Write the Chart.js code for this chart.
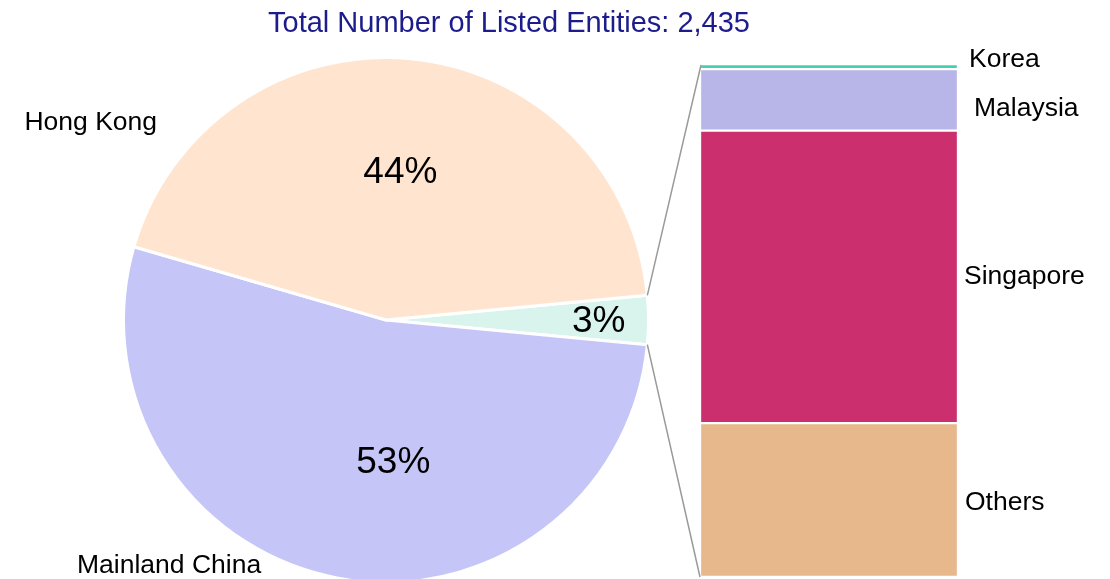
<!DOCTYPE html>
<html>
<head>
<meta charset="utf-8">
<script src="https://cdn.jsdelivr.net/npm/chart.js@4.4.1/dist/chart.umd.min.js"></script>
<style>
  html, body { margin: 0; padding: 0; background: #fff; }
  #wrap { position: relative; width: 1110px; height: 579px; overflow: hidden; }
  #wrap canvas { position: absolute; left: 0; top: 0; }
</style>
</head>
<body>
<div id="wrap">
  <canvas id="pie" width="1110" height="600"></canvas>
  <canvas id="bar" width="1110" height="600"></canvas>
</div>
<script>
// ── Données ───────────────────────────────────────────────────────────────────
const TITLE = 'Total Number of Listed Entities: 2,435';

// Camembert (ordre horaire à partir de la part "autres")
const pieLabels = ['', 'Mainland China', 'Hong Kong'];
const pieValues = [3, 53, 44];
const pieColors = ['#d8f4ec', '#c5c6f7', '#ffe5d0'];

// Barre empilée : détail des 3 % (de bas en haut)
const barLabels = ['Others', 'Singapore', 'Malaysia', 'Korea'];
const barValues = [30, 57, 12, 1];
const barColors = ['#e6b88b', '#cb2f6d', '#b8b5e8', '#44d1b0'];

// ── Styles / placement des textes ─────────────────────────────────────────────
const FONT = '"Liberation Sans", Arial, sans-serif';
const NAME_SIZE = 26.5;
const PCT_SIZE  = 37;
// [angle écran en degrés, distance en fraction du rayon]
const pctPos   = [[-0.5, 0.81], [87, 0.53], [-84.6, 0.58]];
const namePos  = [null, [131.8, 1.24], [214.2, 1.36]];
// décalages [dx, dy] des libellés de la barre
const barLabelOffset = [[7, 3], [6, 0], [16, 9], [11, -7]];

const deg = Math.PI / 180;

// ── Camembert ─────────────────────────────────────────────────────────────────
const pieText = {
  id: 'pieText',
  afterDraw(chart) {
    const ctx = chart.ctx;
    const arc0 = chart.getDatasetMeta(0).data[0];
    const cx = arc0.x, cy = arc0.y, r = arc0.outerRadius;
    const total = pieValues.reduce((a, b) => a + b, 0);
    ctx.save();
    ctx.textAlign = 'center';
    ctx.textBaseline = 'middle';
    ctx.fillStyle = '#000';
    pieValues.forEach((v, i) => {
      const [a, d] = pctPos[i];
      ctx.font = PCT_SIZE + 'px ' + FONT;
      ctx.fillText(Math.round(v / total * 100) + '%',
        cx + Math.cos(a * deg) * d * r, cy + Math.sin(a * deg) * d * r + 4);
      if (namePos[i]) {
        const [a2, d2] = namePos[i];
        ctx.font = NAME_SIZE + 'px ' + FONT;
        ctx.fillText(pieLabels[i],
          cx + Math.cos(a2 * deg) * d2 * r, cy + Math.sin(a2 * deg) * d2 * r + 3);
      }
    });
    ctx.fillStyle = '#1c1c8c';
    ctx.font = '29px ' + FONT;
    ctx.fillText(TITLE, 509, 24);
    ctx.restore();
  },
};

const pieChart = new Chart(document.getElementById('pie'), {
  type: 'pie',
  data: {
    labels: pieLabels,
    datasets: [{
      data: pieValues,
      backgroundColor: pieColors,
      borderColor: '#ffffff',
      borderWidth: 3,
    }],
  },
  options: {
    responsive: false,
    animation: false,
    rotation: 90 - 3 * 1.8,
    layout: { padding: { left: 122, right: 460, top: 56, bottom: 16 } },
    plugins: { legend: { display: false }, tooltip: { enabled: false } },
  },
  plugins: [pieText],
});

// ── Barre + traits de liaison ─────────────────────────────────────────────────
const barExtras = {
  id: 'barExtras',
  afterDraw(chart) {
    const ctx = chart.ctx;
    const area = chart.chartArea;
    const arc = pieChart.getDatasetMeta(0).data[0];
    const a1 = arc.startAngle, a2 = arc.endAngle, R = arc.outerRadius;
    ctx.save();
    ctx.strokeStyle = '#9a9a9a';
    ctx.lineWidth = 1.5;
    ctx.beginPath();
    ctx.moveTo(arc.x + Math.cos(a1) * R, arc.y + Math.sin(a1) * R);
    ctx.lineTo(area.left + 1, area.top + 1);
    ctx.moveTo(arc.x + Math.cos(a2) * R, arc.y + Math.sin(a2) * R);
    ctx.lineTo(area.left, area.bottom);
    ctx.stroke();

    ctx.fillStyle = '#000';
    ctx.font = NAME_SIZE + 'px ' + FONT;
    ctx.textAlign = 'left';
    ctx.textBaseline = 'middle';
    barLabels.forEach((lab, i) => {
      const el = chart.getDatasetMeta(i).data[0];
      const yMid = (el.y + el.base) / 2;
      ctx.fillText(lab, area.right + barLabelOffset[i][0], yMid + barLabelOffset[i][1]);
    });
    ctx.restore();
  },
};

new Chart(document.getElementById('bar'), {
  type: 'bar',
  data: {
    labels: ['Other'],
    datasets: barLabels.map((lab, i) => ({
      label: lab,
      data: [barValues[i]],
      backgroundColor: barColors[i],
      borderColor: '#ffffff',
      borderWidth: 1.5,
      borderSkipped: false,
      barPercentage: 1,
      categoryPercentage: 1,
    })),
  },
  options: {
    responsive: false,
    animation: false,
    layout: { padding: { left: 700, right: 152, top: 64, bottom: 23 } },
    scales: {
      x: { stacked: true, display: false },
      y: { stacked: true, display: false, min: 0, max: 100 },
    },
    plugins: { legend: { display: false }, tooltip: { enabled: false } },
  },
  plugins: [barExtras],
});
</script>
</body>
</html>
